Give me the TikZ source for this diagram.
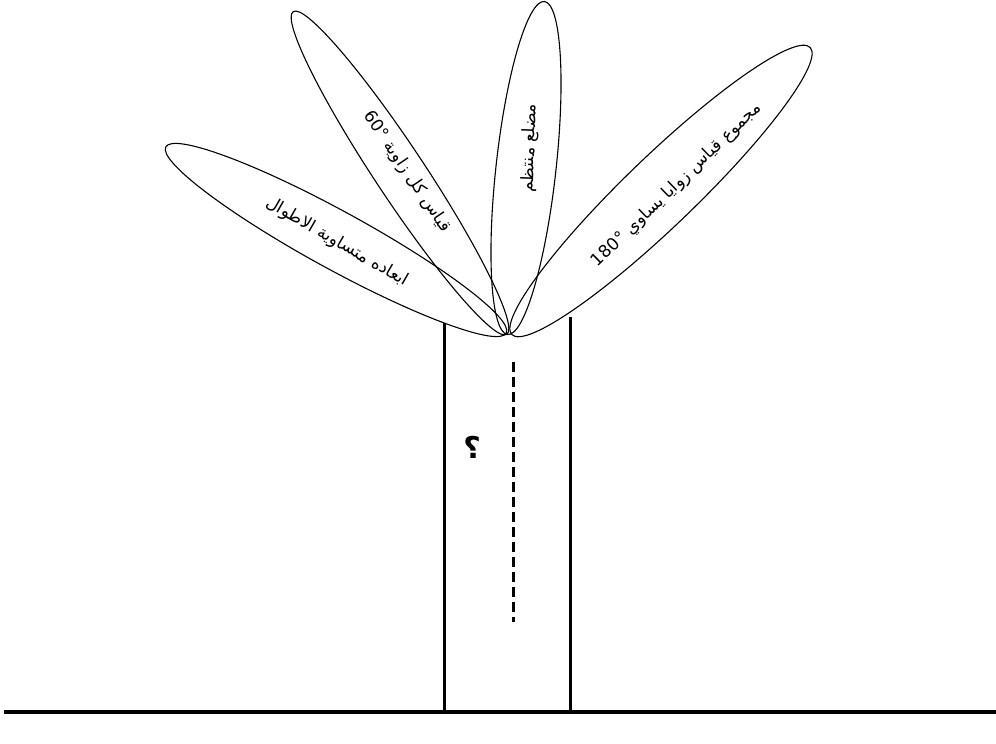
\documentclass[tikz,border=0pt]{standalone}
\usepackage{fontspec}
\newfontfamily\arabicfont[Script=Arabic]{DejaVu Sans}
\TeXXeTstate=1
\usetikzlibrary{shapes}

\begin{document}
\begin{tikzpicture}[x=1pt,y=1pt,
  leaf/.style={draw, ellipse, line width=1.1pt, inner sep=0pt},
  leaftext/.style={font=\arabicfont\fontsize{17}{19}\selectfont, inner sep=1pt},
  trunk/.style={line width=3pt}]

\useasboundingbox (0,0) rectangle (996,744);

% the four leaves
\node (LeafA) [leaf, rotate=-28.7, minimum width=388pt, minimum height=58pt] at (336,504) {};
\node (LeafB) [leaf, rotate=-56.5, minimum width=387pt, minimum height=50pt] at (400,571) {};
\node (LeafC) [leaf, rotate=83.7, minimum width=335pt, minimum height=60pt] at (526,576) {};
\node (LeafD) [leaf, rotate=43.9, minimum width=414pt, minimum height=70pt] at (661,553) {};

\node (TextA) [leaftext, rotate=-30] at (337,502) {\beginR ابعاده متساوية الاطوال\endR};
\node (TextB) [leaftext, rotate=-56] at (407,572) {\beginR قياس كل زاوية \beginL 60°\endL\endR};
\node (TextC) [leaftext, rotate=88] at (530,596) {\beginR مضلع منتظم\endR};
\node (TextD) [leaftext, rotate=44] at (677,559) {\beginR مجموع قياس زوايا يساوي \beginL 180°\endL\endR};

% trunk and ground
\coordinate (TrunkLeftTop) at (444,421);
\coordinate (TrunkLeftFoot) at (444,32);
\coordinate (TrunkRightTop) at (570,427);
\coordinate (TrunkRightFoot) at (570,32);
\coordinate (GroundWest) at (4,32);
\coordinate (GroundEast) at (996,32);
\coordinate (MidTop) at (513,382);
\coordinate (MidFoot) at (513,122);

\draw [trunk] (TrunkLeftTop) -- (TrunkLeftFoot);
\draw [trunk] (TrunkRightTop) -- (TrunkRightFoot);
\draw [line width=4pt] (GroundWest) -- (GroundEast);
\draw [line width=3pt, dash pattern=on 10pt off 5pt] (MidTop) -- (MidFoot);

\node (Ask) [font=\arabicfont\bfseries\fontsize{30}{32}\selectfont] at (472,297) {\beginR ؟\endR};

\end{tikzpicture}
\end{document}
